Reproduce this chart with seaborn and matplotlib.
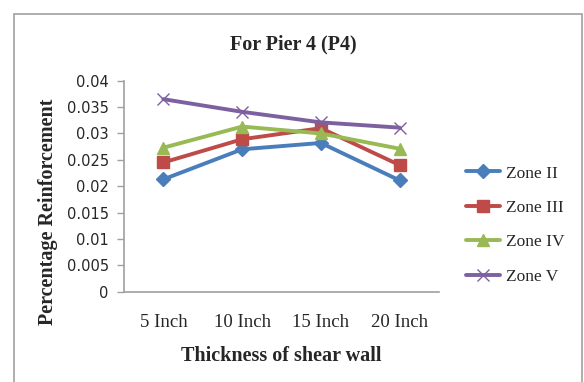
import numpy as np
import pandas as pd
import matplotlib
matplotlib.use("Agg")
import matplotlib.pyplot as plt
import seaborn as sns
from matplotlib.patches import Rectangle
from matplotlib.lines import Line2D

categories = ["5 Inch", "10 Inch", "15 Inch", "20 Inch"]
zone_ii = [0.0213, 0.0270, 0.0282, 0.0211]
zone_iii = [0.0245, 0.0289, 0.0310, 0.0240]
zone_iv = [0.0273, 0.0313, 0.0300, 0.0271]
zone_v = [0.0365, 0.0341, 0.0321, 0.0311]
series_names = ["Zone II", "Zone III", "Zone IV", "Zone V"]
yticks = [0, 0.005, 0.01, 0.015, 0.02, 0.025, 0.03, 0.035, 0.04]
ytick_labels = ["0", "0.005", "0.01", "0.015", "0.02", "0.025", "0.03", "0.035", "0.04"]

rows = []
for name, vals in zip(series_names, [zone_ii, zone_iii, zone_iv, zone_v]):
    for i, (c, v) in enumerate(zip(categories, vals)):
        rows.append({"Thickness": c, "xpos": i, "Value": v, "Zone": name})
df = pd.DataFrame(rows)

sns.set_style("white")
plt.rcParams["font.family"] = ["Liberation Serif", "DejaVu Serif"]

colors = ["#4A7EBB", "#BE4B48", "#98B954", "#7D60A0"]
markers = ["D", "s", "^", "x"]
msizes = [7, 8, 8, 9]
mews = [1.0, 1.0, 1.0, 1.0]

fig = plt.figure(figsize=(5.84, 3.82), dpi=100)
ax = fig.add_axes([124/584, 1-291.7/382, (439-124)/584, (291.7-80.7)/382])

for name, col, m, ms, mew in zip(series_names, colors, markers, msizes, mews):
    sub = df[df["Zone"] == name]
    sns.lineplot(data=sub, x="xpos", y="Value", color=col, marker=m, linewidth=2.8,
                 markersize=ms, markeredgewidth=mew, markeredgecolor=col,
                 markerfacecolor=col, ax=ax, legend=False)

ax.set_xlim(-0.5, 3.5)
ax.set_ylim(0, 0.04)
ax.set_xticks(range(len(categories)))
ax.set_xticklabels(categories, fontsize=13.5, family="Liberation Serif")
ax.set_yticks(yticks)
ax.set_yticklabels(ytick_labels, fontsize=10.5, family="DejaVu Sans")
ax.tick_params(axis="y", length=5, color="#A0A0A0", width=1, pad=6, left=True)
ax.tick_params(axis="x", length=0, pad=16)
for s in ["top", "right"]:
    ax.spines[s].set_visible(False)
for s in ["left", "bottom"]:
    ax.spines[s].set_color("#A0A0A0")
    ax.spines[s].set_linewidth(1.2)

ax.set_xlabel("Thickness of shear wall", fontsize=14.5, fontweight="bold", labelpad=11)
ax.set_ylabel("Percentage Reinforcement", fontsize=14.5, fontweight="bold")
ax.yaxis.set_label_coords((58 - 124) / 315, (291.7 - 212) / 211)

fig.text(293/584, 1-44/382, "For Pier 4 (P4)", ha="center", va="center",
         fontsize=14.5, fontweight="bold")

handles = [Line2D([0], [0], color=c, marker=m, lw=2.8, markersize=ms,
                  markerfacecolor=c, markeredgecolor=c, markeredgewidth=mew)
           for c, m, ms, mew in zip(colors, markers, msizes, mews)]
fig.legend(handles, series_names, loc="center left", bbox_to_anchor=(450/584, 1-225/382),
           frameon=False, fontsize=12.5, handlelength=2.0, handletextpad=0.3,
           labelspacing=1.05)

fig.patches.append(Rectangle((14/584, -0.05), (582-14)/584, (1.05 - 14/382),
                             transform=fig.transFigure, fill=False,
                             edgecolor="#A0A0A0", linewidth=1.2))

fig.savefig("out.png", dpi=100)
